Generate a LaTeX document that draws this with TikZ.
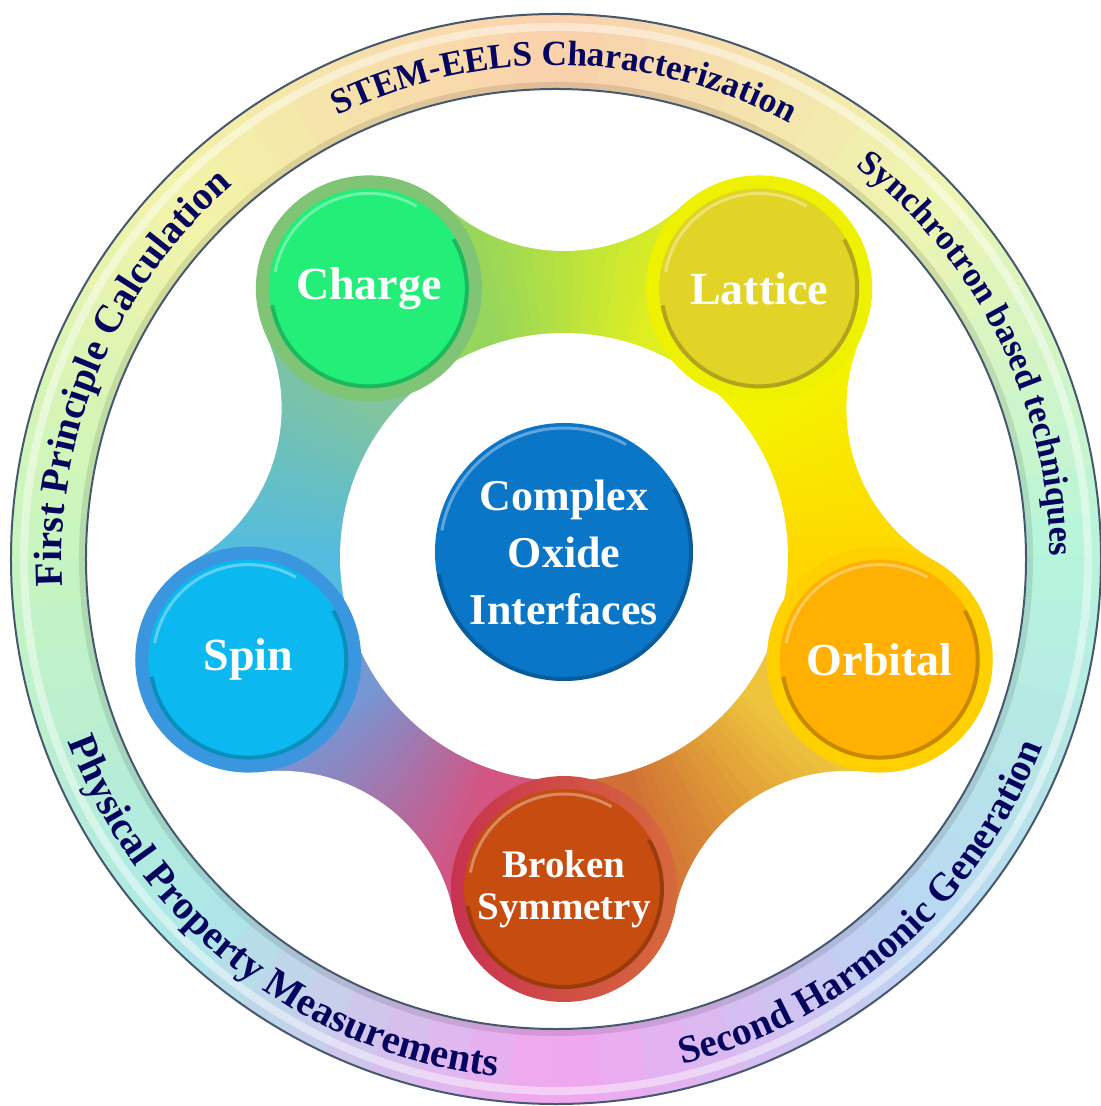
\documentclass[tikz,border=0pt]{standalone}
\usepackage{fontspec}
\setmainfont{Liberation Serif}
\usetikzlibrary{calc,decorations.text}

\definecolor{ringtext}{RGB}{5,5,95}
\definecolor{ringline}{RGB}{70,88,110}
% disc colours
\definecolor{chargecol}{RGB}{35,238,120}
\definecolor{latticecol}{RGB}{226,212,38}
\definecolor{orbitalcol}{RGB}{255,176,0}
\definecolor{brokencol}{RGB}{198,76,16}
\definecolor{spincol}{RGB}{12,184,240}
\definecolor{corecol}{RGB}{10,118,200}
% halo colours
\definecolor{chargehalo}{RGB}{128,196,118}
\definecolor{latticehalo}{RGB}{238,242,0}
\definecolor{orbitalhalo}{RGB}{255,208,0}
\definecolor{brokenhaloA}{RGB}{200,50,80}
\definecolor{brokenhaloB}{RGB}{215,105,60}
\definecolor{spinhalo}{RGB}{58,150,222}
% band colours
\definecolor{chglatA}{RGB}{150,214,92}
\definecolor{chglatB}{RGB}{222,238,32}
\definecolor{latorbA}{RGB}{245,242,0}
\definecolor{latorbB}{RGB}{255,214,0}
\definecolor{orbbrkA}{RGB}{238,196,60}
\definecolor{orbbrkB}{RGB}{208,112,52}
\definecolor{brkspnA}{RGB}{212,84,130}
\definecolor{brkspnB}{RGB}{118,150,212}
\definecolor{spnchgA}{RGB}{84,188,222}
\definecolor{spnchgB}{RGB}{128,196,160}
% ring colours
\definecolor{ring0}{RGB}{182,245,220}
\definecolor{ring45}{RGB}{240,245,175}
\definecolor{ring90}{RGB}{250,208,172}
\definecolor{ring135}{RGB}{242,243,168}
\definecolor{ring180}{RGB}{198,245,192}
\definecolor{ring225}{RGB}{172,232,232}
\definecolor{ring270}{RGB}{242,165,240}
\definecolor{ring315}{RGB}{185,215,242}

\newcommand{\ringfont}[1]{\bfseries\fontsize{#1}{#1}\selectfont\color{ringtext}}

\tikzset{
  disc/.style={circle, inner sep=0pt, minimum size=100pt, text=white,
    align=center, font=\bfseries\fontsize{23}{26}\selectfont},
  discshade/.style={black, opacity=0.22, line width=2pt},
  discshine/.style={white, opacity=0.35, line width=1.5pt},
  ringedge/.style={draw=ringline, line width=1pt},
  ringlabel/.style={decorate, decoration={text along path, text align=center, text={#1}}}
}

\begin{document}
\begin{tikzpicture}[x=0.5pt, y=0.5pt]
  \useasboundingbox (-556,-547) rectangle (544,559);
  \fill[white] (-556,-547) rectangle (544,559);

  % five-lobed blob round the core
  \begin{scope}[shift={(8,2)}]
    \begin{scope}
      \clip (126:332) -- (90:500) -- (54:332) -- (18:500) -- (-18:332)
        -- (-54:500) -- (-90:332) -- (-126:500) -- (-162:332) -- (162:500) -- cycle;
      \foreach \base/\cA/\cB in {0/chglatA/chglatB, 1/latorbA/latorbB, 2/orbbrkA/orbbrkB,
                                 3/brkspnA/brkspnB, 4/spnchgA/spnchgB}{
        \foreach \i in {0,...,35}{
          \pgfmathsetmacro\ang{126-72*\base-2*\i}
          \pgfmathtruncatemacro\pct{max(0,min(100,(2*\i-18)*100/36))}
          \colorlet{bandmix}{\cB!\pct!\cA}
          \fill[bandmix] (0,0) -- (\ang:520) arc (\ang:\ang-2.3:520) -- cycle;
        }
      }
    \end{scope}
    % concave cut-outs
    \foreach \a in {90,18,-54,-126,162}
      \fill[white] (\a:482.5) circle (176.5);
    \fill[white] (0,0) circle (224);

    % halos
    \fill[chargehalo] (126:332) circle (113);
    \fill[latticehalo] (54:332) circle (113);
    \fill[orbitalhalo] (-18:332) circle (113);
    \shade[left color=brokenhaloA, right color=brokenhaloB] (-90:332) circle (113);
    \fill[spinhalo] (198:332) circle (113);

    % discs
    \node[disc, fill=chargecol] (charge) at (126:332) {Charge};
    \node[disc, fill=latticecol] (lattice) at (54:332) {Lattice};
    \node[disc, fill=orbitalcol] (orbital) at (-18:332) {Orbital};
    \node[disc, fill=brokencol, font=\bfseries\fontsize{19.5}{21}\selectfont] (broken) at (-90:332) {Broken\\Symmetry};
    \node[disc, fill=spincol] (spin) at (198:332) {Spin};
    \node[disc, fill=corecol, minimum size=129pt, font=\bfseries\fontsize{22}{28.5}\selectfont] (core) at (0,5) {Complex\\Oxide\\Interfaces};
  \end{scope}

  % bevel on the discs
  \foreach \n/\rad in {charge/100, lattice/100, orbital/100, broken/100, spin/100, core/129}{
    \draw[discshade] (\n.center) ++(-170:\rad-2) arc (-170:30:\rad-2);
    \draw[discshine] (\n.center) ++(60:\rad-5) arc (60:170:\rad-5);
  }

  % outer ring
  \foreach \base/\cA/\cB in {0/ring0/ring45, 45/ring45/ring90, 90/ring90/ring135, 135/ring135/ring180,
                             180/ring180/ring225, 225/ring225/ring270, 270/ring270/ring315, 315/ring315/ring0}{
    \foreach \i in {0,...,8}{
      \pgfmathsetmacro\ang{\base+5*\i}
      \pgfmathtruncatemacro\pct{(\i+0.5)*100/9}
      \colorlet{ringmix}{\cB!\pct!\cA}
      \fill[ringmix] (\ang:470) arc (\ang:\ang+5.4:470) -- (\ang+5.4:545) arc (\ang+5.4:\ang:545) -- cycle;
    }
  }
  \draw[white, opacity=0.45, line width=4pt] (0,0) circle (532);
  \draw[black, opacity=0.1, line width=3pt] (0,0) circle (474);
  \draw[ringedge] (0,0) circle (545);
  \draw[ringedge] (0,0) circle (470);

  % texts round the ring
  \path[ringlabel={|\ringfont{17.7}|STEM-EELS Characterization}] (119:494) arc (119:59:494);
  \path[ringlabel={|\ringfont{17.5}|Synchrotron based techniques}] (57:494) arc (57:-4:494);
  \path[ringlabel={|\ringfont{19.6}|Second Harmonic Generation}] (-80:521) arc (-80:-17:521);
  \path[ringlabel={|\ringfont{20.2}|Physical Property Measurements}] (198:521) arc (198:266:521);
  \path[ringlabel={|\ringfont{19.8}|First Principle Calculation}] (186:494) arc (186:128:494);
\end{tikzpicture}
\end{document}
